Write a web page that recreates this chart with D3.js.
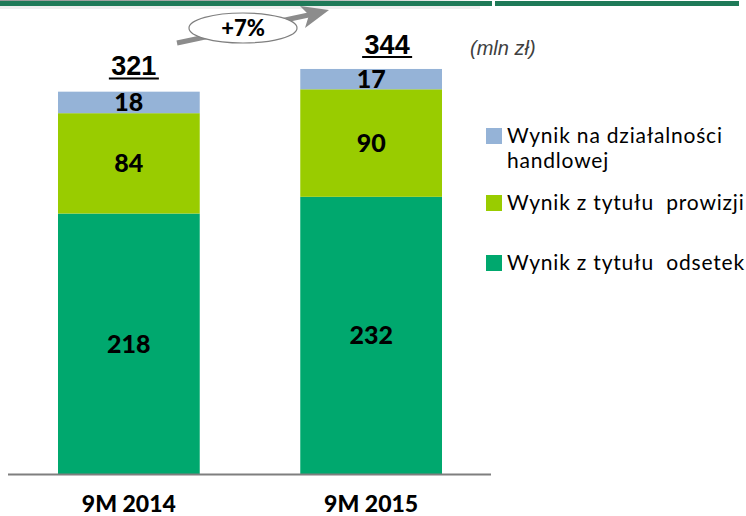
<!DOCTYPE html>
<html>
<head>
<meta charset="utf-8">
<script src="https://cdn.jsdelivr.net/npm/d3@7"></script>
<style>
  html, body { margin: 0; padding: 0; background: #fff; }
  svg { display: block; }
</style>
</head>
<body>
<svg id="chart" width="746" height="516"></svg>
<script>
// Periods on the x axis
const periods = ["9M 2014", "9M 2015"];
// Series values (mln zł), stacked bottom to top
const interest = [218, 232];
const commission = [84, 90];
const trading = [18, 17];
const totals = [321, 344];
const seriesNames = ["Wynik na działalności handlowej", "Wynik z tytułu  prowizji", "Wynik z tytułu  odsetek"];
const growthLabel = "+7%";
const unitLabel = "(mln zł)";

const svg = d3.select("#chart");
const colors = { interest: "#00a86e", commission: "#99cc00", trading: "#95b3d7" };
const labelFont = "Lato, 'Open Sans', sans-serif";

const x = d3.scaleBand().domain(periods).range([58, 442]).paddingInner(0.415).paddingOuter(0);
const y = d3.scaleLinear().domain([0, 344]).range([474, 63]);

// Header rule
const defs = svg.append("defs");
const grad = defs.append("linearGradient").attr("id", "fade").attr("x1", 0).attr("x2", 1);
grad.append("stop").attr("offset", 0).attr("stop-color", "#9a9a9a");
grad.append("stop").attr("offset", 0.6).attr("stop-color", "#b0b0b0");
grad.append("stop").attr("offset", 1).attr("stop-color", "#ffffff");
svg.append("rect").attr("x", 0).attr("y", 0).attr("width", 492).attr("height", 2).attr("fill", "url(#fade)");
svg.append("rect").attr("x", 0).attr("y", 1).attr("width", 492).attr("height", 5).attr("fill", "#1f7a58");
svg.append("rect").attr("x", 0).attr("y", 6).attr("width", 480).attr("height", 3).attr("fill", "#eeeeee");
svg.append("rect").attr("x", 495).attr("y", 1).attr("width", 244).attr("height", 5).attr("fill", "#1f7a58");

// Stacked data
const rows = periods.map((p, i) => ({ period: p, interest: interest[i], commission: commission[i], trading: trading[i] }));
const keys = ["interest", "commission", "trading"];
const stack = d3.stack().keys(keys)(rows);

const layers = svg.append("g").selectAll("g").data(stack).join("g").attr("fill", d => colors[d.key]);
layers.selectAll("rect").data(d => d).join("rect")
  .attr("x", d => x(d.data.period))
  .attr("width", x.bandwidth())
  .attr("y", d => y(d[1]))
  .attr("height", d => y(d[0]) - y(d[1]));

// Segment value labels
layers.selectAll("text").data(d => d.map(v => ({ v, key: d.key }))).join("text")
  .attr("x", d => x(d.v.data.period) + x.bandwidth() / 2)
  .attr("y", d => (y(d.v[0]) + y(d.v[1])) / 2)
  .attr("dy", "0.36em")
  .attr("text-anchor", "middle")
  .attr("fill", "#000")
  .attr("font-family", labelFont)
  .attr("font-weight", 900)
  .attr("font-size", 25)
  .text(d => d.v.data[d.key]);

// Baseline
svg.append("line").attr("x1", 8).attr("x2", 491).attr("y1", 474.5).attr("y2", 474.5)
  .attr("stroke", "#7f7f7f").attr("stroke-width", 2);

// Category labels
svg.append("g").selectAll("text").data(periods).join("text")
  .attr("x", d => x(d) + x.bandwidth() / 2)
  .attr("y", 512)
  .attr("text-anchor", "middle")
  .attr("font-family", labelFont)
  .attr("font-weight", 900)
  .attr("font-size", 23)
  .attr("fill", "#000")
  .text(d => d);

// Totals, underlined
const totalLift = [15, 9];
const totalG = svg.append("g").selectAll("g").data(periods).join("g")
  .attr("transform", (d, i) => `translate(${x(d) + x.bandwidth() / 2 + (i === 0 ? 5 : 16)},${y(totals[i]) - totalLift[i]})`);
totalG.append("text")
  .attr("text-anchor", "middle")
  .attr("font-family", "'Liberation Sans Narrow', 'Liberation Sans', sans-serif")
  .attr("font-weight", 700)
  .attr("font-size", 27)
  .attr("fill", "#000")
  .text((d, i) => totals[i]);
totalG.append("line").attr("x1", -25).attr("x2", 25).attr("y1", 3).attr("y2", 3)
  .attr("stroke", "#000").attr("stroke-width", 2);

// Unit label
svg.append("text").attr("x", 470).attr("y", 55)
  .attr("font-family", "'Liberation Sans Narrow', 'Liberation Sans', sans-serif")
  .attr("font-style", "italic")
  .attr("font-size", 20)
  .attr("fill", "#404040")
  .text(unitLabel);

// Growth arrow with ellipse badge
svg.append("path")
  .attr("d", "M177,43 L318,13")
  .attr("stroke", "#8c8c8c").attr("stroke-width", 5).attr("fill", "none");
svg.append("path")
  .attr("d", "M329,10 L300,6 L309,15 L305,28 Z")
  .attr("fill", "#8c8c8c");
svg.append("ellipse").attr("cx", 243).attr("cy", 28).attr("rx", 54).attr("ry", 15)
  .attr("fill", "#fff").attr("stroke", "#7f7f7f").attr("stroke-width", 1.2);
svg.append("text").attr("x", 243).attr("y", 36).attr("text-anchor", "middle")
  .attr("font-family", labelFont).attr("font-weight", 900).attr("font-size", 22)
  .attr("fill", "#000").text(growthLabel);

// Legend
const legendItems = [
  { lines: ["Wynik na działalności", "handlowej"], color: colors.trading, y: 128 },
  { lines: [seriesNames[1]], color: colors.commission, y: 195 },
  { lines: [seriesNames[2]], color: colors.interest, y: 255 }
];
const lg = svg.append("g").selectAll("g").data(legendItems).join("g")
  .attr("transform", d => `translate(486,${d.y})`);
lg.append("rect").attr("width", 16).attr("height", 16).attr("fill", d => d.color);
lg.append("text")
  .attr("font-family", "Lato, 'Open Sans', sans-serif")
  .attr("font-size", 21)
  .attr("letter-spacing", 0.8)
  .attr("fill", "#000")
  .attr("xml:space", "preserve")
  .style("white-space", "pre")
  .selectAll("tspan").data(d => d.lines).join("tspan")
  .attr("x", 21)
  .attr("y", (d, i) => 15 + i * 25)
  .text(d => d);
</script>
</body>
</html>
